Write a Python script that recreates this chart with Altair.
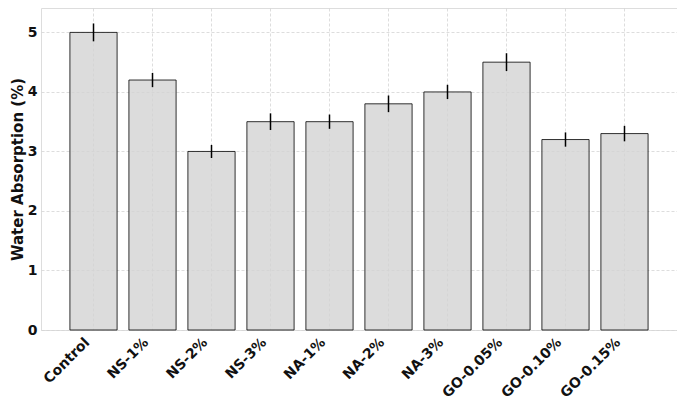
import altair as alt
import pandas as pd

categories = ["Control", "NS-1%", "NS-2%", "NS-3%", "NA-1%", "NA-2%", "NA-3%",
              "GO-0.05%", "GO-0.10%", "GO-0.15%"]
values = [5.0, 4.2, 3.0, 3.5, 3.5, 3.8, 4.0, 4.5, 3.2, 3.3]
errors = [0.15, 0.12, 0.11, 0.14, 0.12, 0.14, 0.12, 0.15, 0.12, 0.13]
y_ticks = [0, 1, 2, 3, 4, 5]

df = pd.DataFrame({"cat": categories, "val": values, "err": errors})
df["lo"] = df["val"] - df["err"]
df["hi"] = df["val"] + df["err"]

FONT = "DejaVu Sans"

x_enc = alt.X(
    "cat:N", sort=categories, title=None,
    scale=alt.Scale(paddingInner=0.2, paddingOuter=0.49),
    axis=alt.Axis(
        labelAngle=-45, labelAlign="right", labelBaseline="top",
        labelFont=FONT, labelFontSize=14, labelFontWeight="bold", labelColor="#111",
        labelPadding=5, labelOffset=-11, ticks=False, domain=False, bandPosition=0.5,
        grid=True, gridColor="#d4d4d4", gridDash=[3, 2], gridWidth=0.8,
    ),
)

y_scale = alt.Scale(domain=[0, 5.41], nice=False)

bars = alt.Chart(df).mark_bar(
    fill="#d3d3d3", fillOpacity=0.8, stroke="#000000", strokeOpacity=0.8, strokeWidth=1
).encode(
    x=x_enc,
    y=alt.Y(
        "val:Q", scale=y_scale, title="Water Absorption (%)",
        axis=alt.Axis(
            values=y_ticks, format="d", labelFont=FONT, labelFontSize=14,
            labelFontWeight="bold", labelColor="#111", labelPadding=4, ticks=False,
            domain=False, titleFont=FONT, titleFontSize=15, titleFontWeight="bold",
            titleColor="#111", titlePadding=2,
            grid=True, gridColor="#d4d4d4", gridDash=[3, 2], gridWidth=0.8,
        ),
    ),
)

errs = alt.Chart(df).mark_rule(color="#000000", strokeWidth=1.5).encode(
    x=alt.X("cat:N", sort=categories),
    y=alt.Y("lo:Q", scale=y_scale),
    y2="hi:Q",
)

chart = (bars + errs).properties(
    width=636, height=322,
    autosize=alt.AutoSizeParams(type="none"),
    padding={"left": 33, "top": 0, "right": 0, "bottom": 70},
).configure_view(
    stroke="#555555", strokeWidth=1.2
).configure(background="white")

chart.save("out.html", embed_options={"renderer": "svg", "actions": False})
